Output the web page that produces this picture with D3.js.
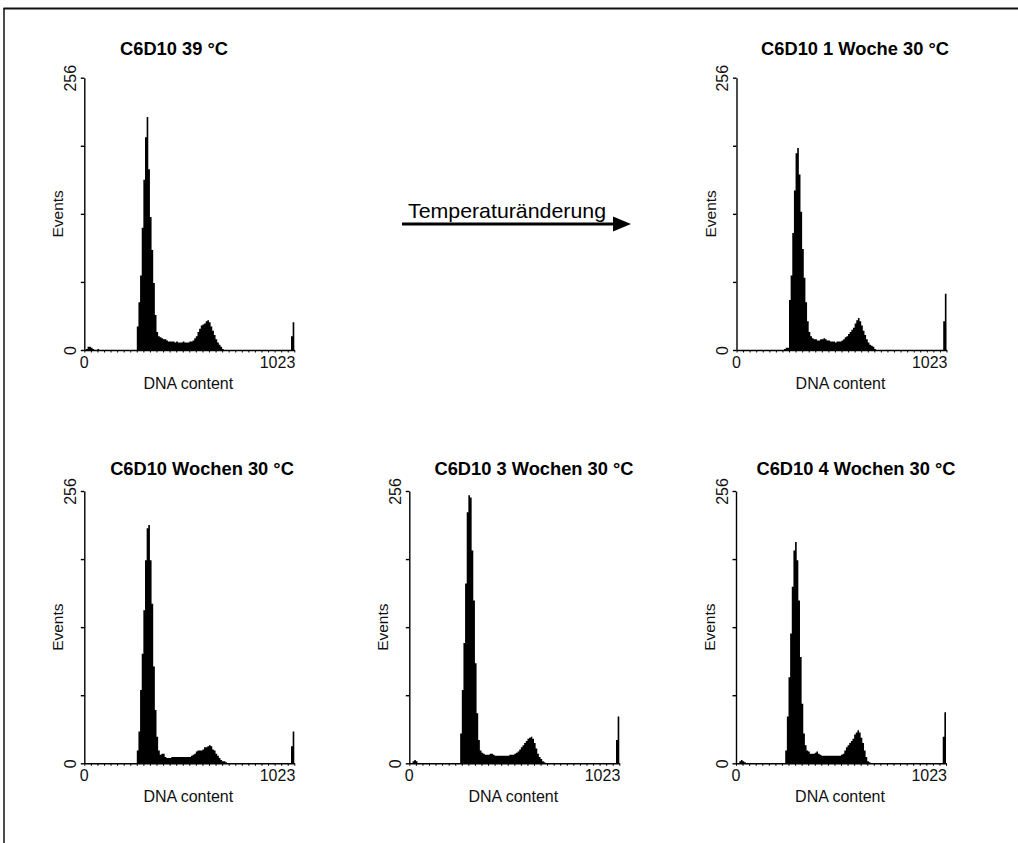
<!DOCTYPE html>
<html><head><meta charset="utf-8">
<script src="https://cdn.jsdelivr.net/npm/d3@7"></script>
<style>body{margin:0;background:#fff} svg{display:block}</style>
</head><body>
<svg id="c" width="1018" height="843"></svg>
<script>
// ---------- data ----------
const titles = ["C6D10 39 °C", "C6D10 1 Woche 30 °C", "C6D10 Wochen 30 °C", "C6D10 3 Wochen 30 °C", "C6D10 4 Wochen 30 °C"];
const xTickLabels = ["0", "1023"];
const yTickValues = [0, 64, 128, 192, 256];
const yTickLabels = ["0", "256"];
const xLabel = "DNA content";
const yLabel = "Events";
const arrowLabel = "Temperaturänderung";
const channelMax = 1024;
const binWidth = 8; // channels per histogram bin

// events per 8-channel bin (128 bins, channels 0..1023)
const counts39C = [
  0,1,3,3,2,1,0,0,1,0,0,0,0,0,0,0,
  0,0,0,0,0,0,0,0,0,0,0,0,0,0,0,0,
  22,45,70,115,160,200,219,170,125,94,63,33,17,13,12,11,
  10,10,9,8,8,8,8,7,8,7,7,7,8,7,7,7,
  8,8,9,11,13,17,20,23,24,25,27,28,26,22,18,14,
  10,7,5,3,1,0,0,0,0,0,0,0,0,0,0,0,
  0,0,0,0,0,0,0,0,0,0,0,0,0,0,0,0,
  0,0,0,0,0,0,0,0,0,0,0,0,0,0,13,26
];
const counts1Woche = [
  0,0,0,0,0,0,0,0,0,0,0,0,0,0,0,0,
  0,0,0,0,0,0,0,0,0,0,0,0,0,1,2,2,
  47,70,110,150,185,190,165,130,95,68,45,27,17,13,11,10,
  10,9,9,10,10,11,10,9,9,8,8,8,7,8,8,8,
  9,10,12,13,15,17,19,21,25,28,30,27,23,18,14,10,
  7,5,4,3,1,0,0,0,0,0,0,0,0,0,0,0,
  0,0,0,0,0,0,0,0,0,0,0,0,0,0,0,0,
  0,0,0,0,0,0,0,0,0,0,0,0,0,0,27,53
];
const countsWochen = [
  0,0,0,0,0,0,0,0,0,0,0,0,0,0,0,0,
  0,0,0,0,0,0,0,0,0,0,0,0,0,0,0,0,
  12,30,69,103,144,191,221,224,191,150,91,50,25,12,8,9,
  9,6,5,5,5,6,6,6,6,6,6,6,6,6,6,6,
  6,7,8,9,11,12,12,12,13,15,15,16,17,16,13,12,
  9,7,5,3,2,2,1,0,0,0,0,0,0,0,0,0,
  0,0,0,0,0,0,0,0,0,0,0,0,0,0,0,0,
  0,0,0,0,0,0,0,0,0,0,0,0,0,0,16,30
];
const counts3Wochen = [
  0,0,2,3,2,0,0,0,0,0,0,0,0,0,0,0,
  0,0,0,0,0,0,0,0,0,0,0,0,0,0,0,28,
  69,113,169,236,252,250,200,153,94,47,22,12,10,9,8,8,
  8,9,9,8,7,7,7,7,7,7,7,7,7,8,8,8,
  9,10,11,13,15,17,19,21,23,24,25,23,19,14,9,6,
  4,2,1,0,0,0,0,0,0,0,0,0,0,0,0,0,
  0,0,0,0,0,0,0,0,0,0,0,0,0,0,0,0,
  0,0,0,0,0,0,0,0,0,0,0,0,0,0,22,44
];
const counts4Wochen = [
  0,0,2,3,2,1,0,0,0,0,0,0,0,0,0,0,
  0,0,0,0,0,0,0,0,0,0,0,0,0,0,12,44,
  81,122,166,200,208,191,153,100,56,28,17,12,11,9,9,9,
  10,11,9,8,7,7,7,7,7,7,7,7,7,7,7,7,
  8,9,12,15,17,19,21,23,27,29,31,29,24,19,12,6,
  2,1,0,0,0,0,0,0,0,0,0,0,0,0,0,0,
  0,0,0,0,0,0,0,0,0,0,0,0,0,0,0,0,
  0,0,0,0,0,0,0,0,0,0,0,0,0,0,25,48
];
const seriesList = [counts39C, counts1Woche, countsWochen, counts3Wochen, counts4Wochen];

// ---------- layout ----------
const plotW = 210, plotH = 272.3;
const panels = [
  {x0: 84.3,  base: 350,   titleX: 174, titleY: 55},
  {x0: 736.5, base: 350,   titleX: 855, titleY: 55},
  {x0: 84.3,  base: 763.3, titleX: 202, titleY: 475},
  {x0: 409.3, base: 763.3, titleX: 534, titleY: 475},
  {x0: 736,   base: 763.3, titleX: 856, titleY: 475}
];
const FONT = "'Liberation Sans', Arial, sans-serif";
const INK = "#000";

const svg = d3.select("#c");
svg.append("rect").attr("width", 1018).attr("height", 843).attr("fill", "#fff");

// frame
svg.append("line").attr("x1", 3.5).attr("x2", 1018).attr("y1", 8.5).attr("y2", 8.5)
  .attr("stroke", "#111").attr("stroke-width", 2);
svg.append("line").attr("x1", 4).attr("x2", 4).attr("y1", 8).attr("y2", 843)
  .attr("stroke", "#111").attr("stroke-width", 1.5);

panels.forEach((p, k) => {
  const counts = seriesList[k];
  const x = d3.scaleLinear().domain([0, channelMax]).range([p.x0, p.x0 + plotW]);
  const y = d3.scaleLinear().domain([0, 256]).range([p.base, p.base - plotH]);
  const g = svg.append("g");

  // histogram
  const pts = counts.map((v, i) => [i * binWidth, v]);
  pts.push([channelMax, counts[counts.length - 1]]);
  const area = d3.area().x(d => x(d[0])).y0(p.base).y1(d => y(d[1])).curve(d3.curveStepAfter);
  g.append("path").datum(pts).attr("d", area).attr("fill", INK);

  // y axis
  const ya = g.append("g").attr("transform", `translate(${p.x0},0)`)
    .call(d3.axisLeft(y).tickValues(yTickValues).tickSize(3.5).tickSizeOuter(0)
      .tickFormat(d => (d === 0 ? yTickLabels[0] : d === 256 ? yTickLabels[1] : "")));
  ya.selectAll("path,line").attr("stroke", INK).attr("stroke-width", 1.4);
  ya.selectAll("text").attr("transform", "rotate(-90)").attr("x", 0).attr("y", -8.5)
    .attr("dy", null).attr("text-anchor", "middle")
    .attr("font-family", FONT).attr("font-size", 16).attr("fill", "#111");

  // x axis
  const xa = g.append("g").attr("transform", `translate(0,${p.base})`)
    .call(d3.axisBottom(x).tickValues(d3.range(0, channelMax + 1, 32)).tickSize(2.5).tickSizeOuter(0).tickFormat(""));
  xa.selectAll("path").attr("stroke", INK).attr("stroke-width", 1.4);
  xa.selectAll("line").attr("stroke", INK).attr("stroke-width", 1);

  g.append("text").attr("x", x(0)).attr("y", p.base + 18).attr("text-anchor", "middle")
    .attr("font-family", FONT).attr("font-size", 16).attr("fill", "#111").text(xTickLabels[0]);
  g.append("text").attr("x", x(channelMax) + 1).attr("y", p.base + 18).attr("text-anchor", "end")
    .attr("font-family", FONT).attr("font-size", 16).attr("fill", "#111").text(xTickLabels[1]);

  // axis titles
  g.append("text").attr("x", p.x0 + plotW / 2 - 1).attr("y", p.base + 38.5).attr("text-anchor", "middle")
    .attr("font-family", FONT).attr("font-size", 16).attr("fill", "#111").text(xLabel);
  g.append("text").attr("transform", `translate(${p.x0 - 21},${p.base - plotH / 2}) rotate(-90)`)
    .attr("text-anchor", "middle").attr("font-family", FONT).attr("font-size", 15.5)
    .attr("fill", "#111").text(yLabel);

  // panel title
  g.append("text").attr("x", p.titleX).attr("y", p.titleY).attr("text-anchor", "middle")
    .attr("font-family", FONT).attr("font-weight", "bold").attr("font-size", 18.3)
    .attr("fill", INK).text(titles[k]);
});

// arrow with label
const arrow = svg.append("g");
arrow.append("line").attr("x1", 402).attr("x2", 616).attr("y1", 224).attr("y2", 224)
  .attr("stroke", INK).attr("stroke-width", 3);
arrow.append("path").attr("d", "M613,216.5 L631,224 L613,231.5 Z").attr("fill", INK);
arrow.append("text").attr("x", 408).attr("y", 218).attr("font-family", FONT).attr("font-size", 21)
  .attr("textLength", 198).attr("lengthAdjust", "spacingAndGlyphs").attr("fill", INK).text(arrowLabel);
</script>
</body></html>
